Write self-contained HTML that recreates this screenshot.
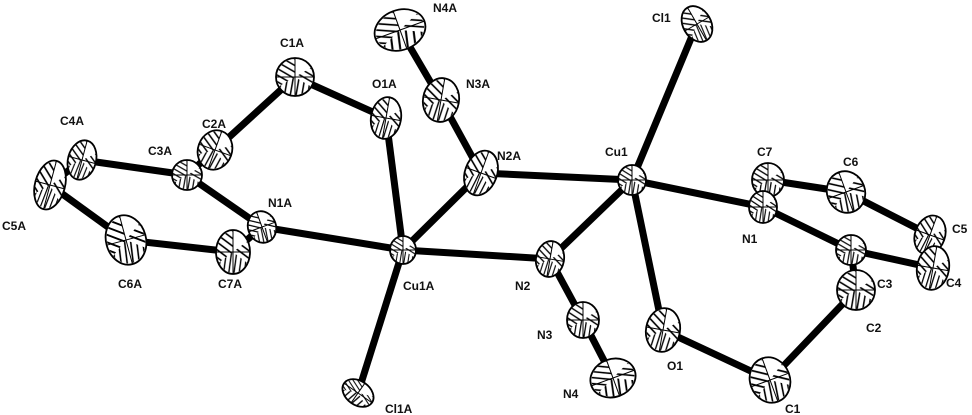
<!DOCTYPE html>
<html><head><meta charset="utf-8"><style>
html,body{margin:0;padding:0;background:#fff;}
svg{display:block;}
text{font-family:"Liberation Sans",sans-serif;font-size:12px;font-weight:bold;fill:#111;}
</style></head><body>
<svg width="972" height="415" viewBox="0 0 972 415" xmlns="http://www.w3.org/2000/svg">
<defs>
<pattern id="hp" patternUnits="userSpaceOnUse" width="0.3" height="0.3" patternTransform="rotate(30)">
<rect width="0.3" height="0.3" fill="#fff"/>
<line x1="0" y1="0.08" x2="0.3" y2="0.08" stroke="#000" stroke-width="0.08"/>
</pattern>
<pattern id="hp2" patternUnits="userSpaceOnUse" width="0.3" height="0.3" patternTransform="rotate(100)">
<rect width="0.3" height="0.3" fill="#fff"/>
<line x1="0" y1="0.08" x2="0.3" y2="0.08" stroke="#000" stroke-width="0.08"/>
</pattern>
<g id="a">
<circle r="1" fill="#fff"/>
<path d="M0,0 L0,-0.95 A0.95,0.95 0 0,0 -0.82,0.48 Z" fill="url(#hp)"/>
<path d="M0,0 L-0.82,0.48 A0.95,0.95 0 0,0 0.82,0.48 Z" fill="url(#hp2)"/>
<path d="M0,0 L0.82,0.48 A0.95,0.95 0 0,0 0.82,-0.48 Z" fill="url(#hp)"/>
<path d="M-1,0 L1,0 M0,-1 L0,1" stroke="#000" stroke-width="1" vector-effect="non-scaling-stroke" fill="none"/>
<circle r="1" fill="none" stroke="#000" stroke-width="1.8" vector-effect="non-scaling-stroke"/>
</g>
</defs>
<g stroke="#000" stroke-width="7" stroke-linecap="butt" fill="none">
<line x1="400" y1="30" x2="441" y2="100"/>
<line x1="441" y1="100" x2="481" y2="173"/>
<line x1="481" y1="173" x2="632" y2="180"/>
<line x1="481" y1="173" x2="403" y2="250"/>
<line x1="403" y1="250" x2="386" y2="118"/>
<line x1="386" y1="118" x2="295" y2="77"/>
<line x1="295" y1="77" x2="215" y2="150"/>
<line x1="215" y1="150" x2="187" y2="175"/>
<line x1="187" y1="175" x2="262" y2="227"/>
<line x1="187" y1="175" x2="82" y2="160"/>
<line x1="82" y1="160" x2="50" y2="185"/>
<line x1="50" y1="185" x2="126" y2="240"/>
<line x1="126" y1="240" x2="233" y2="252"/>
<line x1="233" y1="252" x2="262" y2="227"/>
<line x1="262" y1="227" x2="403" y2="250"/>
<line x1="403" y1="250" x2="358" y2="393"/>
<line x1="403" y1="250" x2="550" y2="259"/>
<line x1="550" y1="259" x2="632" y2="180"/>
<line x1="550" y1="259" x2="583" y2="320"/>
<line x1="583" y1="320" x2="613" y2="378"/>
<line x1="632" y1="180" x2="697" y2="24"/>
<line x1="632" y1="180" x2="763" y2="207"/>
<line x1="632" y1="180" x2="663" y2="330"/>
<line x1="663" y1="330" x2="770" y2="380"/>
<line x1="770" y1="380" x2="856" y2="290"/>
<line x1="856" y1="290" x2="851" y2="250"/>
<line x1="851" y1="250" x2="763" y2="207"/>
<line x1="763" y1="207" x2="768" y2="180"/>
<line x1="768" y1="180" x2="846" y2="192"/>
<line x1="846" y1="192" x2="930" y2="235"/>
<line x1="930" y1="235" x2="933" y2="268"/>
<line x1="933" y1="268" x2="851" y2="250"/>
</g>
<use href="#a" transform="translate(400,30) rotate(-20) scale(26,20)"/>
<use href="#a" transform="translate(441,100) rotate(10) scale(18,22)"/>
<use href="#a" transform="translate(481,173) rotate(20) scale(16,23)"/>
<use href="#a" transform="translate(386,118) rotate(10) scale(15,21)"/>
<use href="#a" transform="translate(295,77) scale(19,19)"/>
<use href="#a" transform="translate(215,150) rotate(20) scale(17,20)"/>
<use href="#a" transform="translate(187,175) scale(15,15)"/>
<use href="#a" transform="translate(82,160) rotate(15) scale(14,20)"/>
<use href="#a" transform="translate(50,185) rotate(15) scale(15,25)"/>
<use href="#a" transform="translate(126,240) rotate(-15) scale(20,25)"/>
<use href="#a" transform="translate(233,252) scale(17,22)"/>
<use href="#a" transform="translate(262,227) rotate(-20) scale(14,16)"/>
<use href="#a" transform="translate(403,250) scale(13,14)"/>
<use href="#a" transform="translate(358,393) rotate(35) scale(17,12)"/>
<use href="#a" transform="translate(550,259) rotate(10) scale(14,18)"/>
<use href="#a" transform="translate(583,320) scale(16,18)"/>
<use href="#a" transform="translate(613,378) rotate(-20) scale(23,19)"/>
<use href="#a" transform="translate(632,180) scale(14,15)"/>
<use href="#a" transform="translate(697,24) rotate(-30) scale(14,19)"/>
<use href="#a" transform="translate(768,180) scale(16,17)"/>
<use href="#a" transform="translate(763,207) scale(14,16)"/>
<use href="#a" transform="translate(846,192) rotate(-20) scale(19,21)"/>
<use href="#a" transform="translate(930,235) rotate(20) scale(15,20)"/>
<use href="#a" transform="translate(933,268) rotate(10) scale(16,22)"/>
<use href="#a" transform="translate(851,250) scale(15,15)"/>
<use href="#a" transform="translate(856,290) scale(19,20)"/>
<use href="#a" transform="translate(770,380) rotate(-20) scale(20,23)"/>
<use href="#a" transform="translate(663,330) rotate(10) scale(17,22)"/>
<text x="433" y="12">N4A</text>
<text x="466" y="88">N3A</text>
<text x="372" y="88">O1A</text>
<text x="280" y="47">C1A</text>
<text x="202" y="128">C2A</text>
<text x="148" y="155">C3A</text>
<text x="60" y="125">C4A</text>
<text x="2" y="230">C5A</text>
<text x="118" y="288">C6A</text>
<text x="218" y="288">C7A</text>
<text x="268" y="207">N1A</text>
<text x="497" y="160">N2A</text>
<text x="403" y="290">Cu1A</text>
<text x="385" y="413">Cl1A</text>
<text x="515" y="290">N2</text>
<text x="537" y="339">N3</text>
<text x="563" y="398">N4</text>
<text x="667" y="370">O1</text>
<text x="785" y="413">C1</text>
<text x="605" y="156">Cu1</text>
<text x="652" y="22">Cl1</text>
<text x="757" y="156">C7</text>
<text x="742" y="243">N1</text>
<text x="843" y="166">C6</text>
<text x="952" y="233">C5</text>
<text x="946" y="287">C4</text>
<text x="877" y="288">C3</text>
<text x="866" y="332">C2</text>
</svg>
</body></html>
